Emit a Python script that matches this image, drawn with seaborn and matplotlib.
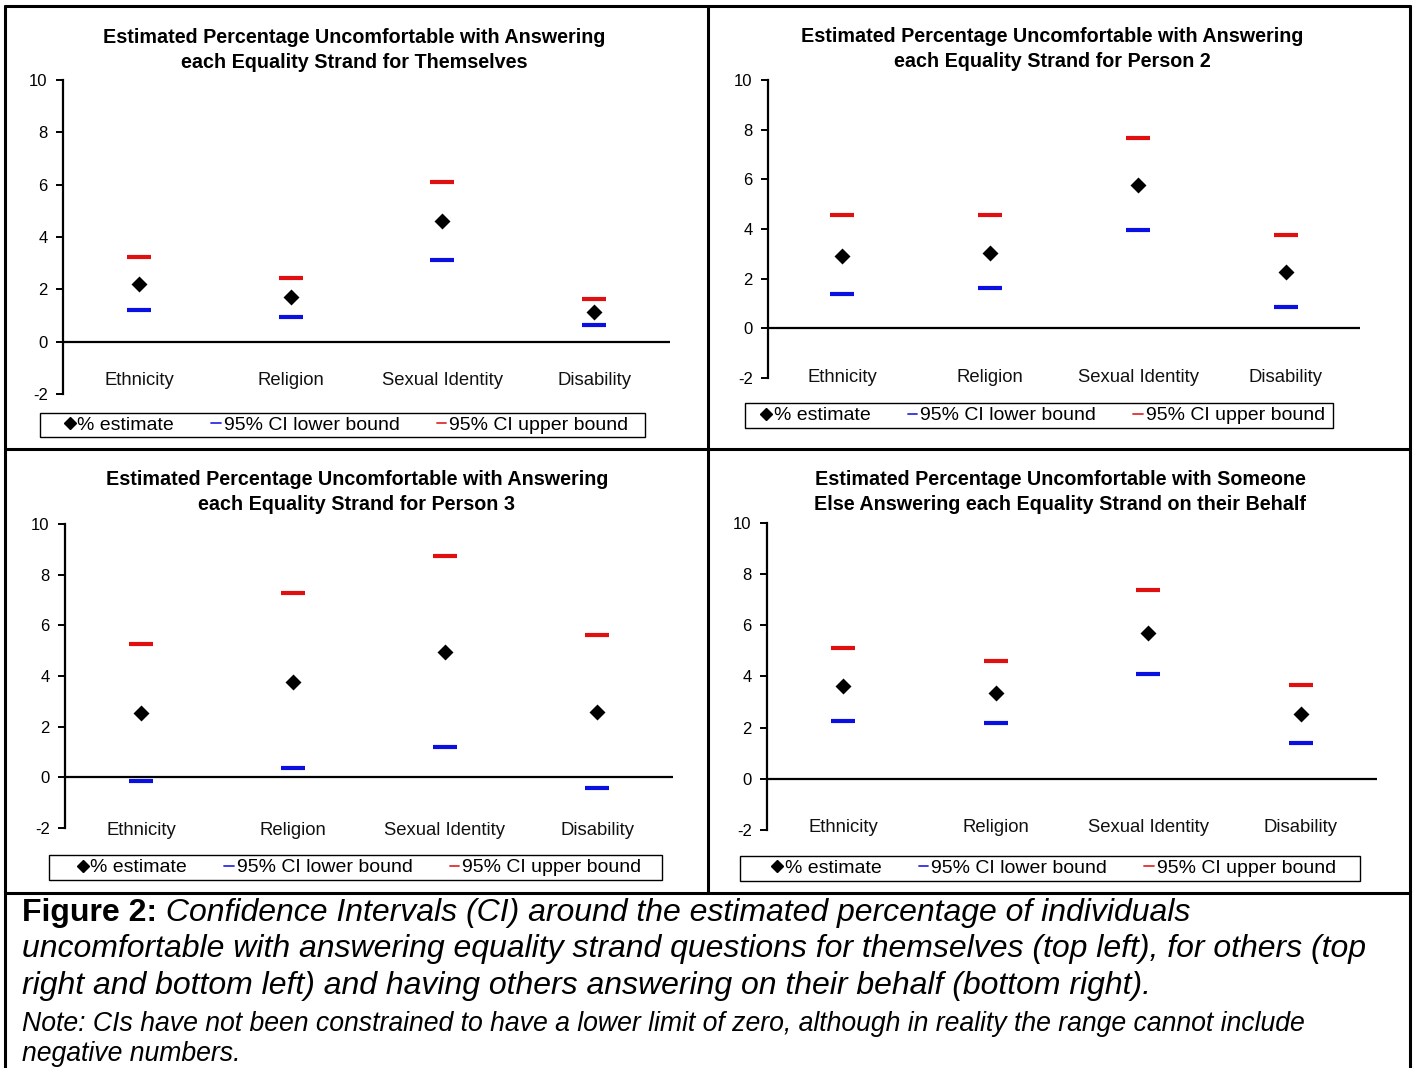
import pandas as pd
import matplotlib
matplotlib.use('Agg')
import matplotlib.pyplot as plt
from matplotlib.lines import Line2D
from matplotlib.patches import Rectangle
import seaborn as sns

sns.set_style('white')
plt.rcParams['font.family'] = ['Liberation Sans', 'DejaVu Sans']
plt.rcParams['text.color'] = 'black'
plt.rcParams['axes.labelcolor'] = 'black'
plt.rcParams['ytick.color'] = 'black'
plt.rcParams['xtick.color'] = 'black'

# data
strands = ['Ethnicity', 'Religion', 'Sexual Identity', 'Disability']

titles = [
    'Estimated Percentage Uncomfortable with Answering\neach Equality Strand for Themselves',
    'Estimated Percentage Uncomfortable with Answering\neach Equality Strand for Person 2',
    'Estimated Percentage Uncomfortable with Answering\neach Equality Strand for Person 3',
    'Estimated Percentage Uncomfortable with Someone\nElse Answering each Equality Strand on their Behalf',
]

self_est = [2.2, 1.7, 4.6, 1.15]
self_low = [1.22, 0.95, 3.13, 0.65]
self_up = [3.24, 2.44, 6.1, 1.64]

p2_est = [2.9, 3.02, 5.77, 2.26]
p2_low = [1.37, 1.61, 3.95, 0.85]
p2_up = [4.56, 4.56, 7.66, 3.75]

p3_est = [2.53, 3.75, 4.94, 2.57]
p3_low = [-0.16, 0.36, 1.19, -0.43]
p3_up = [5.26, 7.27, 8.73, 5.61]

behalf_est = [3.63, 3.36, 5.7, 2.54]
behalf_low = [2.27, 2.19, 4.1, 1.41]
behalf_up = [5.12, 4.61, 7.38, 3.67]

yticks = [-2, 0, 2, 4, 6, 8, 10]
legend_labels = ['% estimate', '95% CI lower bound', '95% CI upper bound']

panels = [
    (self_est, self_low, self_up),
    (p2_est, p2_low, p2_up),
    (p3_est, p3_low, p3_up),
    (behalf_est, behalf_low, behalf_up),
]

# layout (figure fractions)
W, H = 1414, 1068
def fx(px):
    return px / W
def fy(px):
    return 1 - px / H

ax_boxes = [  # left, right, top(10), bottom(-2) in pixels
    (63, 670, 80, 394),
    (768, 1360, 80, 378),
    (65, 673, 524, 828),
    (767, 1377, 523, 830),
]
leg_boxes = [  # x0, x1, y0, y1 pixels
    (40, 645, 413, 437),
    (745, 1333, 403, 428),
    (49, 662, 855, 880),
    (740, 1360, 856, 881),
]
title_y = [50, 49, 492, 492]
label_y = [-1.5, -2.0, -2.1, -1.9]

fig = plt.figure(figsize=(W / 100, H / 100), dpi=100)

for i, (est, low, up) in enumerate(panels):
    l, r, t, b = ax_boxes[i]
    ax = fig.add_axes([fx(l), fy(b), fx(r) - fx(l), fy(t) - fy(b)])
    df = pd.DataFrame({'strand': strands, 'est': est, 'low': low, 'up': up})
    ax.axhline(0, color='black', lw=1.6, zorder=1)
    sns.pointplot(data=df, x='strand', y='low', order=strands, ax=ax, color='#0a10e0',
                  marker='_', markersize=17, markeredgewidth=3, linestyle='none', errorbar=None)
    sns.pointplot(data=df, x='strand', y='up', order=strands, ax=ax, color='#e01010',
                  marker='_', markersize=17, markeredgewidth=3, linestyle='none', errorbar=None)
    sns.pointplot(data=df, x='strand', y='est', order=strands, ax=ax, color='black',
                  marker='D', markersize=6.5, linestyle='none', errorbar=None)
    ax.set_xlim(-0.5, 3.5)
    ax.set_ylim(-2, 10)
    ax.set_yticks(yticks)
    ax.set_yticklabels([str(v) for v in yticks], fontsize=12)
    ax.set_xticks([])
    ax.set_xlabel('')
    ax.set_ylabel('')
    for s in ['top', 'right', 'bottom']:
        ax.spines[s].set_visible(False)
    ax.spines['left'].set_linewidth(1.6)
    ax.spines['left'].set_color('black')
    ax.tick_params(axis='y', direction='out', length=5, width=1.4, left=True, pad=6)
    for j, s in enumerate(strands):
        ax.text(j, label_y[i], s, ha='center', va='center', fontsize=13.3, color='#111111')
    cx = (l + r) / 2 - 12
    fig.text(fx(cx), fy(title_y[i]), titles[i], ha='center', va='center',
             fontsize=14.2, fontweight='bold', linespacing=1.4)

    x0, x1, y0, y1 = leg_boxes[i]
    fig.add_artist(Rectangle((fx(x0), fy(y1)), fx(x1) - fx(x0), fy(y0) - fy(y1),
                             transform=fig.transFigure, fill=False, edgecolor='black', lw=1.0))
    handles = [
        Line2D([], [], color='black', marker='D', markersize=6.5, linestyle='none'),
        Line2D([], [], color='#3030e0', lw=1.3),
        Line2D([], [], color='#e03030', lw=1.3),
    ]
    fig.legend(handles, legend_labels, loc='center', ncol=3,
               bbox_to_anchor=(fx((x0 + x1) / 2 + 4), fy((y0 + y1) / 2)),
               bbox_transform=fig.transFigure, fontsize=14, frameon=False,
               handlelength=0.5, handletextpad=0.15, borderpad=0.0, columnspacing=1.9)

# panel borders
border_kw = dict(color='black', lw=2.2, transform=fig.transFigure)
fig.add_artist(Line2D([fx(5), fx(5)], [fy(6), 0], **border_kw))
fig.add_artist(Line2D([fx(1410), fx(1410)], [fy(6), 0], **border_kw))
fig.add_artist(Line2D([fx(5), fx(1410)], [fy(6), fy(6)], **border_kw))
fig.add_artist(Line2D([fx(708), fx(708)], [fy(6), fy(893)], **border_kw))
fig.add_artist(Line2D([fx(5), fx(1410)], [fy(449), fy(449)], **border_kw))
fig.add_artist(Line2D([fx(5), fx(1410)], [fy(893), fy(893)], **border_kw))

# caption
cap = fig.text(fx(22), fy(913), 'Figure 2:', fontsize=23, fontweight='bold', va='center', ha='left')
plt.gca().annotate(' Confidence Intervals (CI) around the estimated percentage of individuals',
                   xy=(1, 0), xycoords=cap, va='bottom', ha='left', fontsize=23, style='italic',
                   annotation_clip=False)
fig.text(fx(22), fy(949), 'uncomfortable with answering equality strand questions for themselves (top left), for others (top',
         fontsize=23, style='italic', va='center', ha='left')
fig.text(fx(22), fy(986), 'right and bottom left) and having others answering on their behalf (bottom right).',
         fontsize=23, style='italic', va='center', ha='left')
fig.text(fx(22), fy(1024), 'Note: CIs have not been constrained to have a lower limit of zero, although in reality the range cannot include',
         fontsize=19.2, style='italic', va='center', ha='left')
fig.text(fx(22), fy(1054), 'negative numbers.',
         fontsize=19.2, style='italic', va='center', ha='left')

fig.savefig('out.png', dpi=100)
